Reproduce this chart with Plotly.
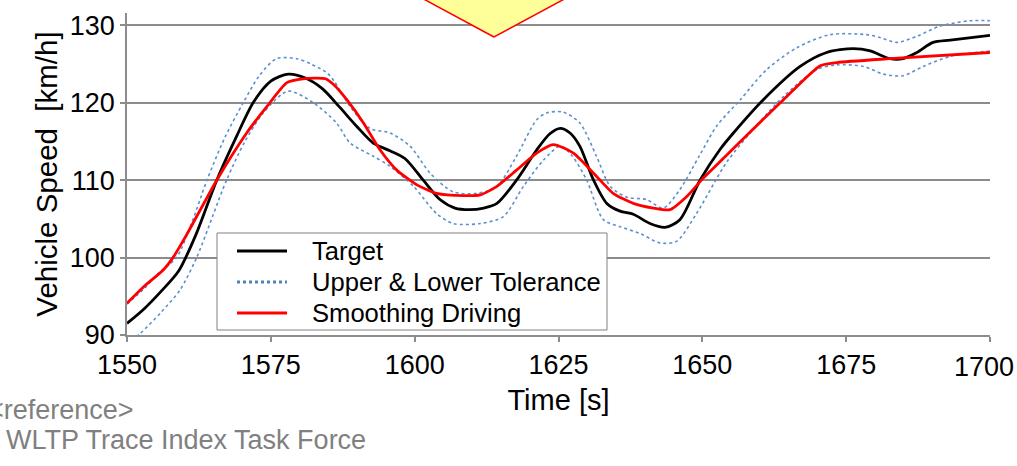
import plotly.graph_objects as go

# ---- data ----
target_t = [1550, 1553, 1556, 1559, 1562, 1565.6, 1569, 1572, 1575, 1578, 1581, 1584, 1587, 1590,
            1592.8, 1595.7, 1598.3, 1601.5, 1604.4, 1607, 1609.5, 1612, 1614.3, 1617.7, 1621.2,
            1623.5, 1625.3, 1627, 1628.7, 1631.1, 1633.4, 1635.7, 1638, 1640.9, 1643.5, 1646.1,
            1649.6, 1653.1, 1655.4, 1660.6, 1667, 1671.6, 1676.2, 1679.2, 1682.6, 1684.9, 1687.3,
            1690.1, 1693.1, 1700]
target_v = [91.5, 93.4, 95.7, 98.3, 103.0, 110.0, 115.6, 120.1, 122.8, 123.7, 123.2, 121.8, 119.4, 116.9,
            114.8, 113.8, 112.8, 110.0, 107.5, 106.4, 106.2, 106.4, 107.0, 110.0, 113.9,
            116.0, 116.7, 116.1, 114.4, 110.0, 107.0, 106.0, 105.6, 104.4, 103.9, 104.9,
            110.0, 114.0, 116.1, 120.4, 124.7, 126.5, 127.0, 126.7, 125.7, 125.7, 126.5,
            127.8, 128.1, 128.7]

smooth_t = [1550, 1553, 1556.3, 1558, 1560.4, 1565.6, 1570.8, 1574.3, 1577.8, 1580.6, 1584.5, 1586,
            1588.2, 1591.1, 1594, 1596.9, 1600.4, 1603.8, 1608.5, 1611.4, 1614.3, 1617.7, 1621.2,
            1624.1, 1627.6, 1631.1, 1634.5, 1638, 1641.5, 1644.4, 1647.3, 1650.2, 1653.1, 1658,
            1664.1, 1670.5, 1673.4, 1682.6, 1700]
smooth_v = [94.1, 96.3, 98.4, 100.0, 103.0, 110.0, 116.1, 119.5, 122.6, 123.1, 123.1, 122.3,
            120.4, 117.4, 113.9, 111.3, 109.4, 108.3, 108.0, 108.1, 109.2, 111.3, 113.5,
            114.6, 113.5, 110.9, 108.3, 107.0, 106.4, 106.2, 107.9, 110.3, 112.4, 116.0,
            120.4, 124.8, 125.2, 125.7, 126.5]

upper_t = [1550, 1553, 1555.5, 1558.6, 1561, 1563.9, 1567, 1570.2, 1573, 1576, 1579.5, 1582, 1584.7,
           1586, 1588.8, 1592.2, 1595.7, 1599.2, 1602.7, 1606.7, 1610.8, 1614.3, 1617.7, 1621.2,
           1623, 1625.8, 1628.7, 1631.6, 1634, 1636.9, 1640.3, 1643.2, 1646.1, 1649.6, 1652.5,
           1656.6, 1661.2, 1666.4, 1672.2, 1678.6, 1681, 1683.8, 1687.3, 1691.3, 1696.5, 1700]
upper_v = [94.0, 96.0, 98.0, 100.0, 104.0, 110.0, 115.5, 120.0, 123.5, 125.7, 125.7, 125.0, 123.9,
           122.8, 119.5, 116.7, 116.1, 114.4, 110.9, 108.5, 108.3, 109.2, 113.1, 117.8,
           118.7, 118.8, 117.4, 113.1, 109.2, 107.8, 107.5, 106.4, 108.8, 113.3, 117.0,
           120.4, 124.3, 127.1, 128.8, 128.8, 128.4, 127.8, 128.6, 129.9, 130.6, 130.6]

lower_t = [1550, 1552.3, 1556, 1559.2, 1562.1, 1567.3, 1570.5, 1573.7, 1578, 1582.4, 1586.4, 1588.8,
           1592.8, 1595.7, 1599.8, 1603.8, 1606.7, 1611.4, 1615.4, 1618.9, 1622.4, 1625.3, 1627.3,
           1629.9, 1632.8, 1635.7, 1639.2, 1642.6, 1645.5, 1649, 1653.1, 1654.5, 1658.3, 1664.1,
           1669.9, 1673.4, 1678, 1681.5, 1684.9, 1688.4, 1693.1, 1700]
lower_v = [88.8, 90.2, 93.0, 95.8, 100.0, 110.0, 115.0, 118.7, 121.5, 120.0, 117.4, 114.8,
           113.1, 111.8, 109.2, 105.7, 104.4, 104.4, 105.3, 109.2, 112.6, 114.4, 113.2,
           110.0, 104.9, 104.0, 103.1, 101.9, 102.1, 105.7, 111.0, 112.6, 116.1, 120.8,
           124.3, 124.9, 124.7, 123.7, 123.5, 124.7, 126.0, 126.7]

x_ticks = [1550, 1575, 1600, 1625, 1650, 1675, 1700]
x_tick_labels = ["1550", "1575", "1600", "1625", "1650", "1675", "1700"]
y_ticks = [90, 100, 110, 120, 130]

legend_names = ["Target", "Upper\u00a0& Lower\u00a0Tolerance", "Smoothing\u00a0Driving"]

FONT = "Liberation Sans, Arial, sans-serif"
TOL_COLOR = "#5b8fcf"
TARGET_COLOR = "black"
SMOOTH_COLOR = "#ff0000"
TICK_SIZE = 27

fig = go.Figure()
fig.add_trace(go.Scatter(x=upper_t, y=upper_v, mode="lines", name=legend_names[1],
                         line=dict(color=TOL_COLOR, width=1.6, dash="dot", shape="spline", smoothing=0.8)))
fig.add_trace(go.Scatter(x=lower_t, y=lower_v, mode="lines", name="lower",
                         line=dict(color=TOL_COLOR, width=1.6, dash="dot", shape="spline", smoothing=0.8)))
fig.add_trace(go.Scatter(x=target_t, y=target_v, mode="lines", name=legend_names[0],
                         line=dict(color=TARGET_COLOR, width=2.8, shape="spline", smoothing=0.8)))
fig.add_trace(go.Scatter(x=smooth_t, y=smooth_v, mode="lines", name=legend_names[2],
                         line=dict(color=SMOOTH_COLOR, width=2.8, shape="spline", smoothing=0.6)))

# pixel -> paper helpers for decorations
L, R, T, B = 127, 990, 13, 335
def px(xp):
    return (xp - L) / (R - L)
def py(yp):
    return (B - yp) / (B - T)

diamond = "M {},{} L {},{} L {},{} Z".format(px(494), py(37), px(418), py(-4), px(570), py(-4))

shapes = [
    dict(type="path", xref="paper", yref="paper", path=diamond,
         fillcolor="#ffff99", line=dict(color="#ff0000", width=1.5), layer="above"),
    # legend box
    dict(type="rect", xref="paper", yref="paper", x0=px(217), x1=px(607), y0=py(330), y1=py(233),
         fillcolor="white", line=dict(color="#808080", width=1), layer="above"),
]
legend_styles = [dict(color=TARGET_COLOR, width=3, dash="solid"),
                 dict(color="#4f81bd", width=3, dash="dot"),
                 dict(color=SMOOTH_COLOR, width=3, dash="solid")]
legend_rows = [251, 282, 313]
annotations = []
for name, style, row in zip(legend_names, legend_styles, legend_rows):
    shapes.append(dict(type="line", xref="paper", yref="paper", x0=px(237), x1=px(287),
                       y0=py(row), y1=py(row), line=style, layer="above"))
    annotations.append(dict(text=name, xref="paper", yref="paper", x=px(310), y=py(row),
                            xanchor="left", yanchor="middle", showarrow=False,
                            font=dict(size=25.6, family=FONT, color="black")))

# last x tick label sits flush with the right edge of the picture, as in the reference
annotations.append(dict(text=x_tick_labels[-1], xref="paper", yref="paper", x=px(1017), y=py(367),
                        xanchor="right", yanchor="middle", showarrow=False, xshift=-1,
                        font=dict(size=TICK_SIZE, family=FONT, color="black")))

annotations += [
    dict(text="&lt;reference&gt;", xref="paper", yref="paper", x=px(-14), y=py(410),
         xanchor="left", yanchor="middle", showarrow=False,
         font=dict(size=27, family=FONT, color="#808080")),
    dict(text="WLTP Trace Index Task Force", xref="paper", yref="paper", x=px(4), y=py(440),
         xanchor="left", yanchor="middle", showarrow=False,
         font=dict(size=27, family=FONT, color="#808080")),
]

fig.update_layout(
    width=1017, height=466, autosize=False,
    margin=dict(l=L, r=1017 - R, t=T, b=466 - B, autoexpand=False),
    paper_bgcolor="white", plot_bgcolor="white",
    font=dict(family=FONT, color="black"),
    showlegend=False,
    xaxis=dict(range=[1550, 1700], tickvals=x_ticks, ticktext=x_tick_labels[:-1] + [""],
               showgrid=False, zeroline=False, automargin=False,
               showline=True, linecolor="#8c8c8c", linewidth=1.5,
               ticks="outside", ticklen=5, tickcolor="#8c8c8c", tickwidth=1.5,
               ticklabeloverflow="allow",
               tickfont=dict(size=TICK_SIZE, family=FONT, color="black"),
               title=dict(text="Time [s]", font=dict(size=29, family=FONT, color="black"), standoff=11)),
    yaxis=dict(range=[90, 131.6], tickvals=y_ticks, showgrid=True, gridcolor="#8c8c8c", gridwidth=1.5,
               automargin=False,
               zeroline=False, showline=True, linecolor="#8c8c8c", linewidth=1.5,
               ticks="outside", ticklen=5, tickcolor="#8c8c8c", tickwidth=1.5,
               tickfont=dict(size=TICK_SIZE, family=FONT, color="black"),
               title=dict(text="Vehicle Speed\u00a0\u00a0[km/h]", font=dict(size=29.5, family=FONT, color="black"),
                          standoff=3)),
    shapes=shapes,
    annotations=annotations,
)

fig.write_html("out.html",
               config={"responsive": False, "displayModeBar": False},
               post_script="document.body.style.margin='0';document.body.style.overflow='hidden';")
